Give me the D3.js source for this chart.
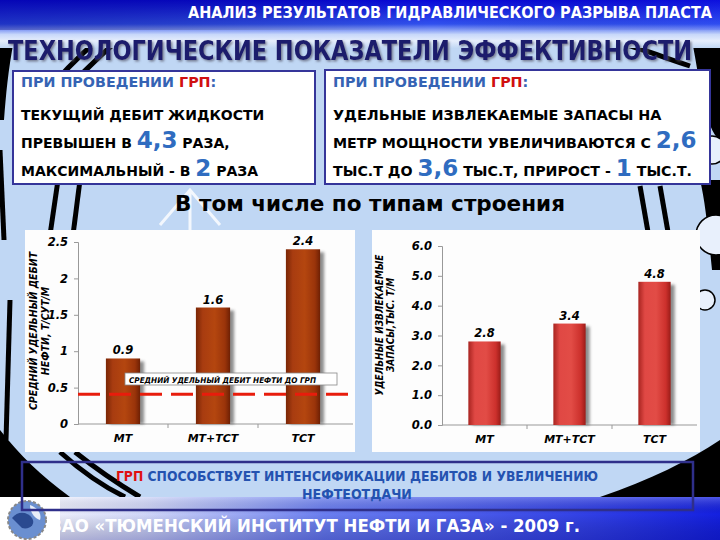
<!DOCTYPE html>
<html><head><meta charset="utf-8">
<script src="https://cdn.jsdelivr.net/npm/d3@7"></script>
<style>body{margin:0;padding:0;background:#fff}svg{display:block}</style>
</head><body>
<svg id="c" width="720" height="540"></svg>
<script>
const categories = ["МТ", "МТ+ТСТ", "ТСТ"];
const debitValues = [0.9, 1.6, 2.4];
const debitLabels = ["0.9", "1.6", "2.4"];
const debitTicks = [0, 0.5, 1, 1.5, 2, 2.5];
const debitTickLabels = ["0", "0.5", "1", "1.5", "2", "2.5"];
const debitBefore = 0.41;
const reservesValues = [2.8, 3.4, 4.8];
const reservesLabels = ["2.8", "3.4", "4.8"];
const reservesTicks = [0, 1, 2, 3, 4, 5, 6];
const reservesTickLabels = ["0.0", "1.0", "2.0", "3.0", "4.0", "5.0", "6.0"];

const svg = d3.select("#c");
const defs = svg.append("defs");

function lin(id, stops, x2, y2) {
  const g = defs.append("linearGradient").attr("id", id)
    .attr("x1", 0).attr("y1", 0).attr("x2", x2).attr("y2", y2);
  stops.forEach(s => g.append("stop").attr("offset", s[0]).attr("stop-color", s[1]));
}
lin("topG", [[0, "#0808d8"], [0.5, "#3050ee"], [0.72, "#c8d8fa"], [0.85, "#e6eefc"], [1, "#c2d8f4"]], 0, 1);
lin("topH", [[0, "rgba(0,0,120,0.35)"], [0.6, "rgba(0,0,0,0)"], [1, "rgba(40,60,255,0.15)"]], 1, 0);
lin("botG", [[0, "#ffffff"], [0.2, "#d0d6f8"], [0.45, "#6a7ef0"], [1, "#1420e0"]], 1, 0);
lin("botV", [[0, "rgba(255,255,255,0.25)"], [0.4, "rgba(0,0,0,0)"], [1, "rgba(0,0,100,0.25)"]], 0, 1);
lin("barBrown", [[0, "#7a2606"], [0.2, "#a83c10"], [0.55, "#b4460f"], [0.85, "#9a340a"], [1, "#6e2004"]], 1, 0);
lin("barRed", [[0, "#a82420"], [0.2, "#e04844"], [0.55, "#e24c46"], [0.85, "#cc302c"], [1, "#9a1c18"]], 1, 0);
const blur = defs.append("filter").attr("id", "glow").attr("x", "-10%").attr("y", "-200%").attr("width", "120%").attr("height", "500%");
blur.append("feGaussianBlur").attr("stdDeviation", 1.6);
const sh = defs.append("filter").attr("id", "shadow").attr("x", "-20%").attr("y", "-20%").attr("width", "160%").attr("height", "140%");
sh.append("feGaussianBlur").attr("stdDeviation", 1.5);
const tsh = defs.append("filter").attr("id", "tshadow").attr("x", "-5%").attr("y", "-30%").attr("width", "110%").attr("height", "160%");
tsh.append("feDropShadow").attr("dx", 1.5).attr("dy", 1.5).attr("stdDeviation", 0.8).attr("flood-color", "#556").attr("flood-opacity", 0.7);

// background
svg.append("rect").attr("width", 720).attr("height", 540).attr("fill", "#c0d7f4");
const deco = svg.append("g");
deco.append("path").attr("d", "M0,40 L14,40 C8,70 6,95 4,120 L0,120 Z").attr("fill", "#000");
deco.append("path").attr("d", "M0,430 C20,455 40,475 70,497 L0,497 Z").attr("fill", "#000");
deco.append("path").attr("d", "M600,497 C650,480 690,460 720,440 L720,497 Z").attr("fill", "#000");
deco.append("path").attr("d", "M690,30 L720,30 L720,140 C705,130 700,80 690,30 Z").attr("fill", "#000");
deco.append("path").attr("d", "M700,180 C705,200 708,230 712,270 L720,270 L720,180 Z").attr("fill", "#000");
const strokes = [
  "M118,40 C95,60 70,85 48,110", "M98,40 C80,55 60,75 40,100",
  "M58,180 L50,235", "M80,180 L73,235",
  "M60,452 C80,470 100,485 125,497", "M75,452 C95,468 115,482 140,497",
  "M640,186 L648,232", "M660,186 L668,232", "M610,40 C640,48 660,56 690,66",
  "M0,150 L4,240", "M10,300 L6,440"
];
strokes.forEach(d => deco.append("path").attr("d", d).attr("fill", "none").attr("stroke", "#000").attr("stroke-width", 5));
deco.append("path").attr("d", "M160,225 L190,190 L220,225 M190,190 L190,230").attr("fill", "none").attr("stroke", "#fff").attr("stroke-width", 3).attr("opacity", 0.8);
[[712, 150, 14], [716, 235, 20], [705, 300, 10]].forEach(c =>
  deco.append("circle").attr("cx", c[0]).attr("cy", c[1]).attr("r", c[2]).attr("fill", "#e8f0fc").attr("stroke", "#000").attr("stroke-width", 1.5));

// top band
svg.append("rect").attr("x", 0).attr("y", 0).attr("width", 720).attr("height", 48).attr("fill", "url(#topG)");
svg.append("rect").attr("x", 0).attr("y", 0).attr("width", 720).attr("height", 30).attr("fill", "url(#topH)");
svg.append("text").attr("x", 712).attr("y", 18).attr("text-anchor", "end")
  .attr("font-family", "'DejaVu Sans Condensed', 'DejaVu Sans', sans-serif").attr("font-weight", "bold")
  .attr("font-size", 15).attr("fill", "#fff").attr("textLength", 524).attr("lengthAdjust", "spacingAndGlyphs")
  .text("АНАЛИЗ РЕЗУЛЬТАТОВ ГИДРАВЛИЧЕСКОГО РАЗРЫВА ПЛАСТА");

// info boxes
const boxFont = "'DejaVu Sans', Verdana, sans-serif";
function infoBox(x, y, w, h, lines) {
  svg.append("rect").attr("x", x).attr("y", y).attr("width", w).attr("height", h)
    .attr("fill", "#fff").attr("stroke", "#35359a").attr("stroke-width", 2);
  lines.forEach(l => {
    const t = svg.append("text").attr("x", x + 8).attr("y", l.y).attr("font-family", boxFont)
      .attr("font-weight", "bold");
    l.parts.forEach(p => t.append("tspan").attr("font-size", p.s).attr("fill", p.c).text(p.t));
  });
}
const B = "#3563b4", R = "#d01010", K = "#000", N = "#2f6cc0";
const s1 = 14.3, sL = 14, sR = 14.4, sb = 23;
infoBox(13, 71, 302, 113, [
  {y: 87, parts: [{t: "ПРИ ПРОВЕДЕНИИ ", s: s1, c: B}, {t: "ГРП", s: s1, c: R}, {t: ":", s: s1, c: B}]},
  {y: 120, parts: [{t: "ТЕКУЩИЙ ДЕБИТ ЖИДКОСТИ", s: sL, c: K}]},
  {y: 148, parts: [{t: "ПРЕВЫШЕН В ", s: sL, c: K}, {t: "4,3", s: sb, c: N}, {t: " РАЗА,", s: sL, c: K}]},
  {y: 176, parts: [{t: "МАКСИМАЛЬНЫЙ - В ", s: sL, c: K}, {t: "2", s: sb, c: N}, {t: " РАЗА", s: sL, c: K}]}
]);
infoBox(325, 70, 385, 114, [
  {y: 87, parts: [{t: "ПРИ ПРОВЕДЕНИИ ", s: s1, c: B}, {t: "ГРП", s: s1, c: R}, {t: ":", s: s1, c: B}]},
  {y: 120, parts: [{t: "УДЕЛЬНЫЕ ИЗВЛЕКАЕМЫЕ ЗАПАСЫ НА", s: sR, c: K}]},
  {y: 148, parts: [{t: "МЕТР МОЩНОСТИ УВЕЛИЧИВАЮТСЯ С ", s: 14.2, c: K}, {t: "2,6", s: sb, c: N}]},
  {y: 176, parts: [{t: "ТЫС.Т ДО ", s: 14.2, c: K}, {t: "3,6", s: sb, c: N}, {t: " ТЫС.Т, ПРИРОСТ - ", s: 14.2, c: K}, {t: "1", s: sb, c: N}, {t: " ТЫС.Т.", s: 14.2, c: K}]}
]);

// main title (drawn above boxes)
svg.append("text").attr("x", 8).attr("y", 60)
  .attr("font-family", "'DejaVu Sans Condensed', 'DejaVu Sans', sans-serif").attr("font-weight", "bold")
  .attr("font-size", 26).attr("fill", "#1c1c6c").attr("textLength", 684).attr("lengthAdjust", "spacingAndGlyphs")
  .attr("filter", "url(#tshadow)")
  .text("ТЕХНОЛОГИЧЕСКИЕ ПОКАЗАТЕЛИ ЭФФЕКТИВНОСТИ");

svg.append("text").attr("x", 370).attr("y", 211).attr("text-anchor", "middle")
  .attr("font-family", boxFont).attr("font-weight", "bold").attr("font-size", 21).attr("fill", "#000")
  .attr("textLength", 390).attr("lengthAdjust", "spacingAndGlyphs")
  .text("В том числе по типам строения");

// charts
const axFont = "'DejaVu Sans', Verdana, sans-serif";
function chart(o) {
  const g = svg.append("g");
  g.append("rect").attr("x", o.px).attr("y", 230).attr("width", o.pw).attr("height", 222).attr("fill", "#fdfdfd");
  const y = d3.scaleLinear().domain([o.ticks[0], o.ticks[o.ticks.length - 1]]).range([o.y0, o.y1]);
  const x = d3.scaleBand().domain(categories).range([o.x0, o.x1]).paddingInner(0.62).paddingOuter(0.31);
  const yAxis = d3.axisLeft(y).tickValues(o.ticks).tickFormat((d, i) => o.tickLabels[i]).tickSize(4).tickPadding(6);
  const ya = g.append("g").attr("transform", `translate(${o.x0},0)`).call(yAxis);
  ya.select(".domain").attr("stroke", "#999");
  ya.selectAll(".tick line").attr("stroke", "#999");
  ya.selectAll("text").attr("font-family", axFont).attr("font-style", "italic").attr("font-weight", "bold")
    .attr("font-size", 11.5).attr("fill", "#000");
  const xa = g.append("g").attr("transform", `translate(0,${o.y0})`)
    .call(d3.axisBottom(x).tickSize(0).tickPadding(10));
  xa.select(".domain").attr("stroke", "#999").attr("d", `M${o.x0},0H${o.xEnd}`);
  xa.selectAll("text").attr("font-family", axFont).attr("font-style", "italic").attr("font-weight", "bold")
    .attr("font-size", 11).attr("fill", "#000");
  const step = x.step();
  [1, 2].forEach(i => {
    const tx = o.x0 + x.paddingOuter() * step + i * step - step * x.paddingInner() / 2;
    g.append("line").attr("x1", tx).attr("x2", tx).attr("y1", o.y0).attr("y2", o.y0 + 4).attr("stroke", "#999");
  });
  g.selectAll(".sh").data(o.values).join("rect")
    .attr("x", (d, i) => x(categories[i]) + 4).attr("y", d => y(d) + 3)
    .attr("width", x.bandwidth()).attr("height", d => o.y0 - y(d) - 3)
    .attr("fill", "#333").attr("opacity", 0.55).attr("filter", "url(#shadow)");
  g.selectAll(".bar").data(o.values).join("rect")
    .attr("x", (d, i) => x(categories[i])).attr("y", d => y(d))
    .attr("width", x.bandwidth()).attr("height", d => o.y0 - y(d))
    .attr("fill", o.fill);
  g.selectAll(".lbl").data(o.values).join("text")
    .attr("x", (d, i) => x(categories[i]) + x.bandwidth() / 2).attr("y", d => y(d) - 4)
    .attr("text-anchor", "middle").attr("font-family", axFont).attr("font-style", "italic").attr("font-weight", "bold")
    .attr("font-size", 11.5).attr("fill", "#000").text((d, i) => o.labels[i]);
  const t = g.append("text").attr("transform", `translate(${o.tx},${o.ty}) rotate(-90)`)
    .attr("text-anchor", "middle").attr("font-family", "'DejaVu Sans Condensed', 'DejaVu Sans', sans-serif")
    .attr("font-style", "italic").attr("font-weight", "bold").attr("font-size", o.tfs).attr("fill", "#000");
  o.title.forEach((s, i) => t.append("tspan").attr("x", 0).attr("dy", i === 0 ? 0 : o.tfs * 1.1).text(s));
  return {x, y, g};
}
const c1 = chart({px: 25, pw: 330, x0: 78, x1: 348, xEnd: 353, y0: 424, y1: 242, ticks: debitTicks, tickLabels: debitTickLabels,
  values: debitValues, labels: debitLabels, fill: "url(#barBrown)", tx: 37, ty: 331, tfs: 10.5,
  title: ["СРЕДНИЙ УДЕЛЬНЫЙ ДЕБИТ", "НЕФТИ, Т/СУТ/М"]});
const c2 = chart({px: 372, pw: 328, x0: 442, x1: 697, xEnd: 697, y0: 425, y1: 246, ticks: reservesTicks, tickLabels: reservesTickLabels,
  values: reservesValues, labels: reservesLabels, fill: "url(#barRed)", tx: 383, ty: 325, tfs: 10,
  title: ["УДЕЛЬНЫЕ ИЗВЛЕКАЕМЫЕ", "ЗАПАСЫ,ТЫС. Т/М"]});

const yb = c1.y(debitBefore);
c1.g.append("line").attr("x1", 78).attr("x2", 353).attr("y1", yb).attr("y2", yb)
  .attr("stroke", "#ff6040").attr("stroke-width", 6).attr("stroke-dasharray", "22,9").attr("opacity", 0.6).attr("filter", "url(#glow)");
c1.g.append("line").attr("x1", 78).attr("x2", 353).attr("y1", yb).attr("y2", yb)
  .attr("stroke", "#e81c0c").attr("stroke-width", 3).attr("stroke-dasharray", "22,9");
c1.g.append("rect").attr("x", 125).attr("y", 373).attr("width", 212).attr("height", 12)
  .attr("fill", "#fff").attr("stroke", "#888").attr("stroke-width", 0.8);
c1.g.append("text").attr("x", 129).attr("y", 382.5)
  .attr("font-family", "'DejaVu Sans Condensed', 'DejaVu Sans', sans-serif").attr("font-style", "italic")
  .attr("font-weight", "bold").attr("font-size", 7.8).attr("fill", "#000")
  .attr("textLength", 187).attr("lengthAdjust", "spacingAndGlyphs")
  .text("СРЕДНИЙ УДЕЛЬНЫЙ ДЕБИТ НЕФТИ ДО ГРП");

// bottom band
svg.append("rect").attr("x", 0).attr("y", 497).attr("width", 720).attr("height", 43).attr("fill", "url(#botG)");
svg.append("rect").attr("x", 0).attr("y", 497).attr("width", 720).attr("height", 43).attr("fill", "url(#botV)");
svg.append("rect").attr("x", 0).attr("y", 497).attr("width", 60).attr("height", 43).attr("fill", "#fff");
svg.append("text").attr("x", 50).attr("y", 532)
  .attr("font-family", "'DejaVu Sans Condensed', 'DejaVu Sans', sans-serif").attr("font-weight", "bold")
  .attr("font-size", 18).attr("fill", "#fff").attr("textLength", 530).attr("lengthAdjust", "spacingAndGlyphs")
  .text("ЗАО «ТЮМЕНСКИЙ ИНСТИТУТ НЕФТИ И ГАЗА» - 2009 г.");
const lg = svg.append("g");
lg.append("circle").attr("cx", 27).attr("cy", 520).attr("r", 19).attr("fill", "#6a8fd0");
lg.append("path").attr("d", "M12,518 C18,510 28,512 32,518 C36,524 30,530 22,528 Z").attr("fill", "#2a4a90");
lg.append("path").attr("d", "M30,505 C38,508 42,514 40,520 C34,518 30,512 30,505 Z").attr("fill", "#e8eef8");
lg.append("circle").attr("cx", 27).attr("cy", 520).attr("r", 19).attr("fill", "none").attr("stroke", "#888").attr("stroke-width", 2).attr("stroke-dasharray", "3,2");

// conclusion box
svg.append("rect").attr("x", 22).attr("y", 462).attr("width", 671).attr("height", 48)
  .attr("fill", "none").attr("stroke", "#2f2f8a").attr("stroke-width", 2.5);
const ct = svg.append("text").attr("x", 357).attr("y", 481).attr("text-anchor", "middle")
  .attr("font-family", "'DejaVu Sans Condensed', 'DejaVu Sans', sans-serif").attr("font-weight", "bold").attr("font-size", 14)
  .attr("textLength", 482).attr("lengthAdjust", "spacingAndGlyphs");
ct.append("tspan").attr("fill", "#e01010").text("ГРП");
ct.append("tspan").attr("fill", "#2452b0").text(" СПОСОБСТВУЕТ ИНТЕНСИФИКАЦИИ ДЕБИТОВ И УВЕЛИЧЕНИЮ");
svg.append("text").attr("x", 357).attr("y", 499).attr("text-anchor", "middle")
  .attr("font-family", "'DejaVu Sans Condensed', 'DejaVu Sans', sans-serif").attr("font-weight", "bold").attr("font-size", 14)
  .attr("fill", "#2452b0").text("НЕФТЕОТДАЧИ");
</script>
</body></html>
